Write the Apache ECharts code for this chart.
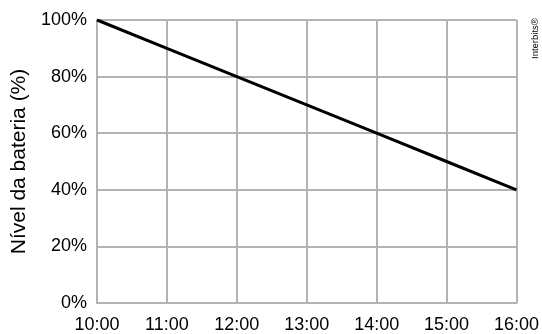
<!DOCTYPE html>
<html>
<head>
<meta charset="utf-8">
<script src="https://cdn.jsdelivr.net/npm/echarts@6/dist/echarts.min.js"></script>
<style>
  html, body { margin: 0; padding: 0; background: #fff; }
  #chart { width: 542px; height: 334px; }
</style>
</head>
<body>
<div id="chart"></div>
<script>
var horas = ["10:00", "11:00", "12:00", "13:00", "14:00", "15:00", "16:00"];
var bateria = [100, 90, 80, 70, 60, 50, 40];

var chart = echarts.init(document.getElementById("chart"));
var option = {
  animation: false,
  grid: { left: 97, right: 25, top: 20, bottom: 31 },
  xAxis: {
    type: "category",
    data: horas,
    boundaryGap: false,
    axisLine: { lineStyle: { color: "#b3b3b3", width: 2 } },
    axisTick: { show: false },
    axisLabel: { color: "#000", fontSize: 18, fontFamily: "Liberation Sans", margin: 13 },
    splitLine: { show: true, lineStyle: { color: "#b3b3b3", width: 2 } }
  },
  yAxis: {
    type: "value",
    min: 0,
    max: 100,
    interval: 20,
    name: "Nível da bateria (%)",
    nameLocation: "middle",
    nameGap: 65,
    nameTextStyle: { color: "#000", fontSize: 21, fontFamily: "Liberation Sans" },
    axisLine: { show: true, lineStyle: { color: "#b3b3b3", width: 2 } },
    axisTick: { show: false },
    axisLabel: { color: "#000", fontSize: 18, fontFamily: "Liberation Sans", margin: 10, formatter: "{value}%" },
    splitLine: { show: true, lineStyle: { color: "#b3b3b3", width: 2 } }
  },
  graphic: [{
    type: "text",
    x: 530,
    y: 59,
    rotation: Math.PI / 2,
    style: { text: "Interbits®", fontSize: 9.5, fontFamily: "Liberation Sans", fill: "#000" }
  }],
  series: [{
    type: "line",
    data: bateria,
    symbol: "none",
    lineStyle: { color: "#000", width: 3 }
  }]
};
chart.setOption(option);
</script>
</body>
</html>
